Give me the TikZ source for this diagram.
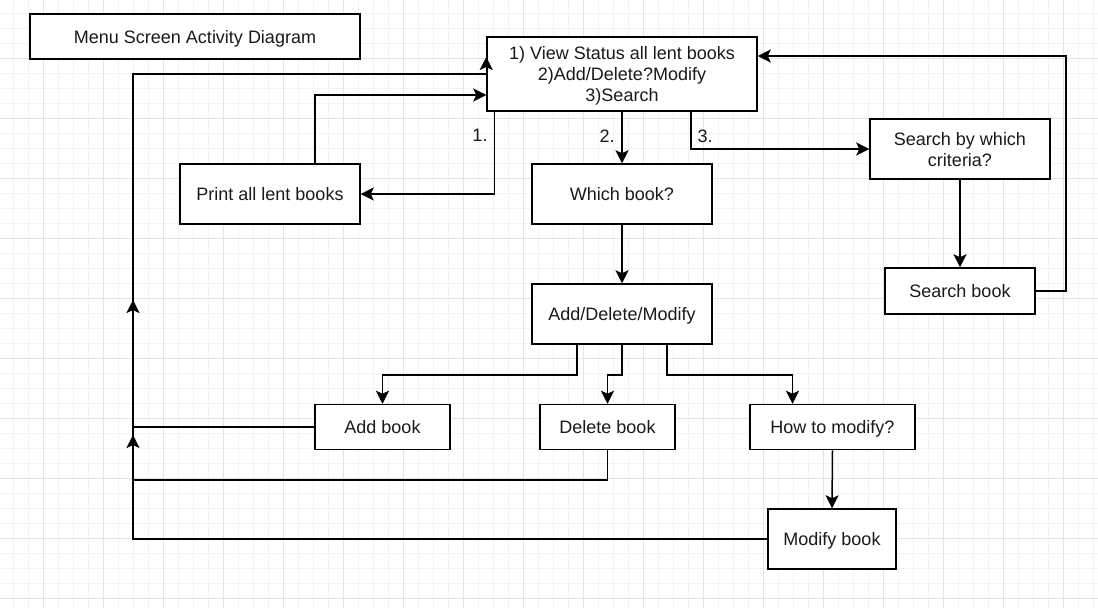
\documentclass[tikz,border=0pt]{standalone}
\usepackage{fontspec}
\setmainfont{Liberation Sans}
\usepackage{tikz}
\usetikzlibrary{arrows.meta,calc}
\definecolor{cnegro}{HTML}{000000}
\definecolor{ctexto}{HTML}{1A1A1A}
\definecolor{cmalla}{HTML}{F3F3F3}
\definecolor{cmallaf}{HTML}{E4E4E4}
\tikzset{
  caja/.style={rectangle, draw=cnegro, fill=white, line width=1.5pt, align=center,
    minimum width=180pt, minimum height=60pt, text depth=0pt, text=ctexto,
    font=\fontsize{18}{21}\selectfont},
  cajab/.style={caja, minimum width=135pt, minimum height=45pt},
  flecha/.style={-{Stealth[length=13pt,width=13pt,inset=3pt,line width=0.5pt]}, line width=1.5pt, draw=cnegro},
  etq/.style={font=\fontsize{18}{21}\selectfont, text=ctexto, inner sep=0pt},
  malla/.style={draw=cmalla, line width=0.8pt},
  mallaf/.style={draw=cmallaf, line width=0.8pt},
}

\begin{document}
\begin{tikzpicture}[x=1pt, y=-1pt]
  \useasboundingbox (0,0) rectangle (1098,608);
  \fill[white] (0,0) rectangle (1098,608);
  % fondo cuadriculado
  \foreach \x in {13,28,...,1098} \draw[malla] (\x,0) -- (\x,608);
  \foreach \y in {13,28,...,608} \draw[malla] (0,\y) -- (1098,\y);
  \foreach \x in {43,103,...,1098} \draw[mallaf] (\x,0) -- (\x,608);
  \foreach \y in {58,118,...,608} \draw[mallaf] (0,\y) -- (1098,\y);

  % cajas
  \node[caja, minimum width=330pt, minimum height=45pt] (titulo) at (195,36.5) {Menu Screen Activity Diagram};
  \node[caja, minimum width=270pt, minimum height=74pt] (menu) at (622,74)
    {1) View Status all lent books\\2)Add/Delete?Modify\\3)Search};
  \node[caja] (imprimir) at (270,194) {Print all lent books};
  \node[caja] (cual) at (622,194) {Which book?};
  \node[caja] (criterio) at (960,149) {Search by which\\criteria?};
  \node[cajab, minimum width=150pt, minimum height=46pt] (buscar) at (960,291) {Search book};
  \node[caja] (adm) at (622,314) {Add/Delete/Modify};
  \node[cajab] (anadir) at (382.5,427) {Add book};
  \node[cajab] (borrar) at (607.5,427) {Delete book};
  \node[cajab, minimum width=165pt] (como) at (832.5,427) {How to modify?};
  \node[caja, minimum width=128pt] (modif) at (832,539) {Modify book};

  \coordinate (lado) at (133,74);
  \coordinate (finB) at (133,435);
  \coordinate (finM) at (133,300);

  % conectores
  \draw[flecha] ([xshift=8pt]menu.south west) |- (imprimir.east);
  \draw[flecha] (menu.south) -- (cual.north);
  \draw[flecha] ([xshift=-67pt]menu.south east) |- (criterio.west);
  \draw[flecha] ([xshift=45pt]imprimir.north) |- ([yshift=-21pt]menu.west);
  \draw[flecha] (criterio.south) -- (buscar.north);
  \draw[flecha] (buscar.east) -- ++(30,0) |- ([yshift=18pt]menu.east);
  \draw[flecha] (cual.south) -- (adm.north);
  \draw[flecha] ([xshift=-45pt]adm.south) -- ++(0,30) -| (anadir.north);
  \draw[flecha] (adm.south) -- ++(0,30) -| (borrar.north);
  \draw[flecha] ([xshift=45pt]adm.south) -- ++(0,30) -| ([xshift=-40pt]como.north);
  \draw[flecha] (como.south) -- (modif.north);
  \draw[flecha] (anadir.west) -| (lado) -- (menu.west) -- ++(0,-17);
  \draw[flecha] (borrar.south) -- ++(0,29.5) -| (finB);
  \draw[flecha] (modif.west) -| (finM);

  % etiquetas
  \node[etq] (e1) at (480,135) {1.};
  \node[etq] (e2) at (607,136) {2.};
  \node[etq] (e3) at (705,136) {3.};
\end{tikzpicture}
\end{document}
